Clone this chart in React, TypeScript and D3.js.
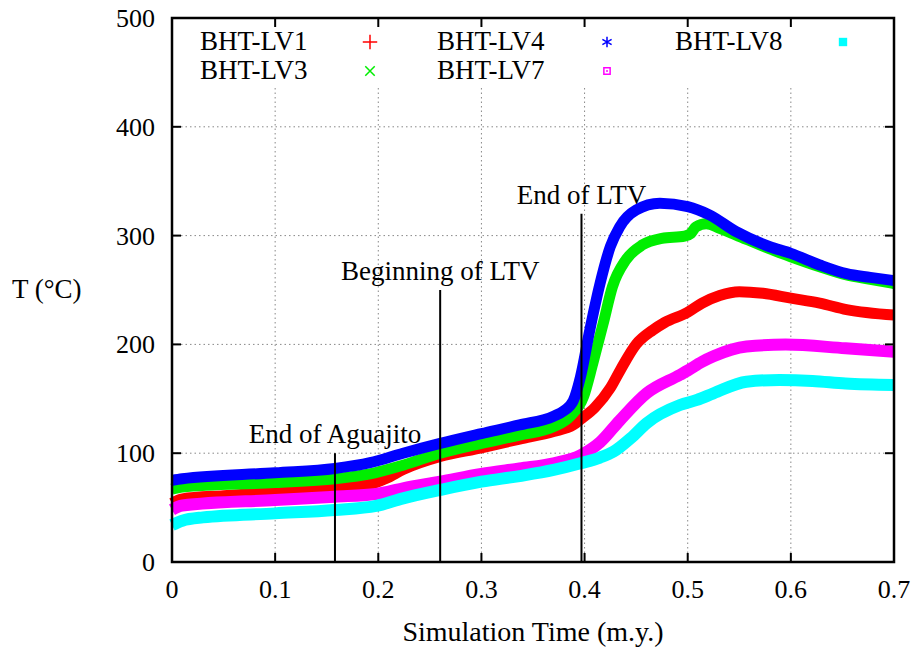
import React from 'react';
import * as d3 from 'd3';

// valores (tiempo en m.y., temperatura en °C)
const xTicks = [0, 0.1, 0.2, 0.3, 0.4, 0.5, 0.6, 0.7];
const yTicks = [0, 100, 200, 300, 400, 500];

const lv1Time = [0, 0.01, 0.05, 0.1, 0.158, 0.19, 0.208, 0.224, 0.26, 0.3, 0.337, 0.37, 0.389, 0.396, 0.41, 0.425, 0.435, 0.45, 0.466, 0.4775, 0.5, 0.514, 0.531, 0.55, 0.573, 0.6, 0.628, 0.654, 0.7];
const lv1Temp = [54, 58, 61, 64, 68, 71, 77, 85, 97, 105, 113, 120, 126, 131, 142, 160, 177, 200, 213, 220, 229.5, 238, 245, 248.5, 247, 242.5, 238, 232, 227];

const lv3Time = [0, 0.01, 0.1, 0.158, 0.192, 0.224, 0.26, 0.3, 0.337, 0.37, 0.386, 0.399, 0.408, 0.418, 0.427, 0.44, 0.456, 0.475, 0.497, 0.503, 0.508, 0.518, 0.531, 0.547, 0.579, 0.6, 0.628, 0.654, 0.677, 0.7];
const lv3Temp = [67, 69, 73, 76.6, 81, 89, 100, 109, 116.7, 124.4, 134, 152, 182.6, 219, 253, 277.6, 291.4, 297.5, 299.6, 302, 308, 311, 306.7, 300.5, 288, 280.6, 271.4, 263.8, 259.8, 256];

const lv4Time = [0, 0.01, 0.1, 0.158, 0.192, 0.224, 0.26, 0.3, 0.337, 0.37, 0.38, 0.389, 0.396, 0.405, 0.415, 0.425, 0.434, 0.45, 0.473, 0.5, 0.521, 0.547, 0.579, 0.6, 0.628, 0.654, 0.677, 0.7];
const lv4Temp = [75, 76.5, 82, 86, 91.3, 100, 109, 118, 126, 134, 139, 148, 170, 213, 256, 290, 308, 323.5, 329.7, 326.6, 319, 303.6, 290, 283.7, 273, 265, 261.6, 258.6];

const lv7Time = [0, 0.01, 0.1, 0.158, 0.198, 0.224, 0.26, 0.3, 0.337, 0.37, 0.396, 0.415, 0.434, 0.46, 0.4925, 0.5, 0.514, 0.525, 0.557, 0.595, 0.653, 0.7];
const lv7Temp = [48, 52, 57, 60, 62.5, 67.7, 73.8, 80.9, 86, 90.7, 98, 110, 130, 155, 172, 176, 184, 189, 198, 199.8, 196.4, 193.3];

const lv8Time = [0, 0.01, 0.03, 0.1, 0.158, 0.198, 0.224, 0.26, 0.3, 0.337, 0.37, 0.396, 0.415, 0.428, 0.445, 0.46, 0.4925, 0.509, 0.525, 0.557, 0.589, 0.621, 0.653, 0.7];
const lv8Temp = [34, 38, 41, 44.7, 47.8, 51.5, 58.5, 66.2, 73.8, 79, 84.6, 90.7, 96, 101.4, 114, 127.5, 144.3, 149, 155, 165.7, 167.3, 166.4, 164, 162.7];

const seriesNames = ['BHT-LV1', 'BHT-LV3', 'BHT-LV4', 'BHT-LV7', 'BHT-LV8'];
const seriesTimes = [lv1Time, lv3Time, lv4Time, lv7Time, lv8Time];
const seriesTemps = [lv1Temp, lv3Temp, lv4Temp, lv7Temp, lv8Temp];

const eventLabels = ['End of Aguajito', 'Beginning of LTV', 'End of LTV'];
const eventTimes = [0.158, 0.26, 0.397];
const eventTops = [100, 250, 320];

const colors = ['#ff0000', '#00ee00', '#0000ff', '#ff00ff', '#00ffff'];
const bandWidths = [11, 11, 11, 12, 12];

const W = 918;
const H = 651;
const left = 172, right = 894, top = 18, bottom = 562;

const txt = (size: number): React.CSSProperties => ({ fontFamily: "'Liberation Serif'", fontSize: `${size}px` });

export default function App() {
    const x = d3.scaleLinear().domain([0, 0.7]).range([left, right]);
    const y = d3.scaleLinear().domain([0, 500]).range([bottom, top]);

    const line = d3.line<[number, number]>()
        .x(d => x(d[0]))
        .y(d => y(d[1]))
        .curve(d3.curveMonotoneX);

    const symbols = [d3.symbolPlus, d3.symbolTimes, d3.symbolAsterisk, d3.symbolSquare2, d3.symbolSquare];
    const symbolSizes = [70, 60, 80, 50, 70];
    const legendCols = [200, 437, 675];
    const keyCols = [370, 607, 843];
    const rows = [42, 71];
    const fmtX = (d: number) => (d === 0 ? '0' : d3.format('.1f')(d));

    return (
        <svg width={W} height={H} style={{ position: 'absolute', left: 0, top: 0, display: 'block', background: '#fff' }}>
            {/* grilla punteada */}
            <g stroke="#888" strokeWidth={1} strokeDasharray="1.5,3">
                {xTicks.slice(1, -1).map(t => (
                    <line key={'gx' + t} x1={x(t)} x2={x(t)} y1={bottom} y2={top} />
                ))}
                {yTicks.slice(1, -1).map(v => (
                    <line key={'gy' + v} x1={left} x2={right} y1={y(v)} y2={y(v)} />
                ))}
            </g>

            {/* caja de la leyenda */}
            <rect x={left + 1} y={top + 1} width={right - left - 2} height={69} fill="#fff" />

            {/* series */}
            {seriesTimes.map((times, i) => (
                <path
                    key={seriesNames[i]}
                    d={line(times.map((t, j) => [t, seriesTemps[i][j]] as [number, number])) || ''}
                    fill="none"
                    stroke={colors[i]}
                    strokeWidth={bandWidths[i]}
                    strokeLinejoin="round"
                />
            ))}

            {/* eventos */}
            {eventLabels.map((label, i) => (
                <g key={label}>
                    <line x1={x(eventTimes[i])} x2={x(eventTimes[i])} y1={bottom} y2={y(eventTops[i])} stroke="#000" strokeWidth={2} />
                    <text x={x(eventTimes[i])} y={y(eventTops[i]) - 10} textAnchor="middle" style={txt(27)}>{label}</text>
                </g>
            ))}

            {/* leyenda */}
            {seriesNames.map((name, i) => {
                const col = Math.floor(i / 2);
                const row = i % 2;
                const filled = i === 4;
                return (
                    <g key={'lg' + name}>
                        <text x={legendCols[col]} y={rows[row] + 8} style={txt(27)}>{name}</text>
                        <path
                            transform={`translate(${keyCols[col]},${rows[row]})`}
                            d={d3.symbol(symbols[i], symbolSizes[i])() || ''}
                            fill={filled ? colors[i] : 'none'}
                            stroke={filled ? 'none' : colors[i]}
                            strokeWidth={1.5}
                        />
                        {i === 3 && <circle cx={keyCols[col]} cy={rows[row]} r={1} fill={colors[i]} />}
                    </g>
                );
            })}

            {/* ticks hacia adentro */}
            <g stroke="#000" strokeWidth={2}>
                {xTicks.map(t => (
                    <g key={'tx' + t}>
                        <line x1={x(t)} x2={x(t)} y1={bottom} y2={bottom - 9} />
                        <line x1={x(t)} x2={x(t)} y1={top} y2={top + 9} />
                    </g>
                ))}
                {yTicks.map(v => (
                    <g key={'ty' + v}>
                        <line x1={left} x2={left + 9} y1={y(v)} y2={y(v)} />
                        <line x1={right} x2={right - 9} y1={y(v)} y2={y(v)} />
                    </g>
                ))}
            </g>
            <rect x={left} y={top} width={right - left} height={bottom - top} fill="none" stroke="#000" strokeWidth={2.5} />

            {/* etiquetas */}
            {xTicks.map(t => (
                <text key={'lx' + t} x={x(t)} y={bottom + 36} textAnchor="middle" style={txt(26)}>{fmtX(t)}</text>
            ))}
            {yTicks.map(v => (
                <text key={'ly' + v} x={155} y={y(v) + 9} textAnchor="end" style={txt(26)}>{v}</text>
            ))}
            <text x={533} y={641} textAnchor="middle" style={txt(28)}>Simulation Time (m.y.)</text>
            <text x={12} y={298} style={txt(27)}>T (°C)</text>
        </svg>
    );
}
